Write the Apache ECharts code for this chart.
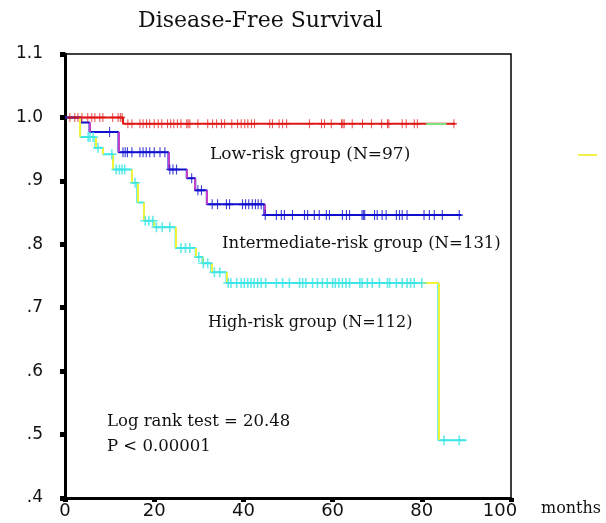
<!DOCTYPE html>
<html>
<head>
<meta charset="utf-8">
<script src="https://cdn.jsdelivr.net/npm/echarts@6/dist/echarts.min.js"></script>
<style>
  html, body { margin: 0; padding: 0; background: #fff; }
  #container { width: 606px; height: 523px; }
</style>
</head>
<body>
<div id="container"></div>
<script>
// axis ticks
var xTicks = [0, 20, 40, 60, 80, 100];
var yTicks = [0.4, 0.5, 0.6, 0.7, 0.8, 0.9, 1.0, 1.1];

// low-risk group (N=97): event times / survival after each step
var lowT = [0, 13, 87.5];
var lowS = [1.0, 0.99, 0.99];
var lowCens = [1.1, 2.2, 2.9, 3.8, 5.1, 6, 6.7, 7.8, 8.5, 10.7, 11.9, 12.4, 12.8, 14.1, 15, 16.8, 17.5, 18.3, 19,
  20, 20.9, 21.7, 23, 23.7, 24.4, 25.2, 26, 27.3, 27.6, 28, 29.8, 32, 33.1, 34, 35.1, 35.8, 37.4, 38.7, 39.5, 40.3,
  41, 41.8, 42.5, 45.9, 46.5, 48, 48.8, 49.7, 54.8, 57.5, 58.2, 59.7, 62, 62.3, 62.6, 64.4, 66.7, 68.7, 71, 72.3,
  72.6, 75.6, 76.5, 78.3, 79, 87.2];
var lowGreen = [81, 85.5];

// intermediate-risk group (N=131)
var midT = [0, 3.5, 5.5, 12, 23.2, 27.3, 29.2, 31.8, 44.7, 88.8];
var midS = [1.0, 0.992, 0.977, 0.945, 0.918, 0.904, 0.885, 0.863, 0.846, 0.846];
var midCens = [10, 13, 13.5, 14, 15, 16.8, 17.5, 18.2, 19, 20, 21.3, 22.4, 23.5, 24.2, 25, 28.4, 29.8, 30.6, 33,
  34.2, 36.2, 36.9, 39.8, 40.5, 41.2, 42, 42.7, 43.3, 44, 44.9, 47.4, 48.5, 49.2, 51, 53.7, 54.4, 55.9, 57, 58.6,
  59.3, 62.2, 63.1, 63.8, 66.6, 66.9, 67.2, 69.4, 70, 71.1, 72, 74.3, 75, 75.6, 76.7, 80.5, 81.7, 82.8, 84.6, 88.4];

// high-risk group (N=112)
var highT = [0, 3.4, 6.8, 8.5, 10.8, 15, 16.2, 17.7, 20, 24.8, 29.3, 30.8, 32.8, 36.2, 83.7, 90];
var highS = [1.0, 0.969, 0.952, 0.942, 0.918, 0.897, 0.866, 0.837, 0.827, 0.794, 0.780, 0.770, 0.756, 0.739, 0.491, 0.491];
var highCens = [5.2, 5.6, 6.3, 7.4, 10.5, 11.5, 12.2, 12.8, 13.4, 15.7, 18, 18.8, 19.7, 20.5, 21.8, 23.5, 26, 27, 28,
  30, 31, 32, 33.5, 34.7, 36.6, 37.2, 38.5, 39.5, 40.2, 41, 41.7, 42.4, 43.2, 44, 45, 47.4, 48.8, 50.3, 52.6, 53.3,
  54, 55.5, 56.6, 57.7, 58.8, 60, 60.6, 61.4, 62.2, 63, 63.8, 66.1, 66.6, 67.8, 68.9, 70.5, 72.3, 72.8, 74.3, 75.6,
  76.7, 77.5, 78.3, 80, 85, 88.4];
var highYellowTail = [80, 83.7];

var PLUS = 'path://M0,4.2H4.2V0H5.8V4.2H10V5.8H5.8V10H4.2V5.8H0Z';

function survAt(T, S, t) {
  var v = S[0];
  for (var i = 0; i < T.length; i++) {
    if (T[i] <= t) v = S[i];
  }
  return v;
}
function stepData(T, S) {
  return T.map(function (t, i) { return [t, S[i]]; });
}
function dropLines(T, S, from) {
  var res = [];
  for (var i = from; i < T.length; i++) {
    if (S[i] !== S[i - 1]) res.push({ coords: [[T[i], S[i - 1]], [T[i], S[i]]] });
  }
  return res;
}
function censData(T, S, C) {
  return C.map(function (t) { return [t, survAt(T, S, t)]; });
}
function flatLine(T, S, seg) {
  var v = survAt(T, S, seg[0]);
  return [{ coords: [[seg[0], v], [seg[1], v]] }];
}

var serif = '"DejaVu Serif", "Liberation Serif", serif';

var dom = document.getElementById("container");
var myChart = echarts.init(dom);
var option = {
  backgroundColor: '#fff',
  animation: false,
  grid: { left: 65, right: 95, top: 54, bottom: 25, show: true, borderColor: '#000', borderWidth: 1.5 },
  xAxis: {
    type: 'value', min: 0, max: 100, interval: 20,
    axisLine: { lineStyle: { color: '#000', width: 3 } },
    axisTick: { show: true, length: 4, lineStyle: { color: '#000', width: 5 } },
    splitLine: { show: false },
    axisLabel: {
      color: '#111', fontFamily: 'DejaVu Sans', fontSize: 18, margin: 4,
      formatter: function (v) { return v === 100 ? '{r|100}' : String(v); },
      rich: { r: { fontFamily: 'DejaVu Sans', fontSize: 18, color: '#111', padding: [0, 22, 0, 0] } }
    }
  },
  yAxis: {
    type: 'value', min: 0.4, max: 1.1, interval: 0.1,
    axisLine: { lineStyle: { color: '#000', width: 3 } },
    axisTick: { show: true, length: 5, lineStyle: { color: '#000', width: 5 } },
    splitLine: { show: false },
    axisLabel: {
      color: '#111', fontFamily: 'DejaVu Sans', fontSize: 17, margin: 22,
      formatter: function (v) {
        var s = (Math.round(v * 10) / 10).toFixed(1);
        return v >= 0.99 ? s : s.slice(1);
      }
    }
  },
  graphic: [
    { type: 'text', left: 138, top: 10, style: { text: 'Disease-Free Survival', font: '22px ' + serif, fill: '#111' } },
    { type: 'text', left: 210, top: 146, style: { text: 'Low-risk group (N=97)', font: '17px ' + serif, fill: '#111' } },
    { type: 'text', left: 222, top: 235, style: { text: 'Intermediate-risk group (N=131)', font: '16.5px ' + serif, fill: '#111' } },
    { type: 'text', left: 208, top: 315, style: { text: 'High-risk group (N=112)', font: '16px ' + serif, fill: '#111' } },
    { type: 'text', left: 107, top: 413, style: { text: 'Log rank test = 20.48', font: '16.5px ' + serif, fill: '#111' } },
    { type: 'text', left: 107, top: 438, style: { text: 'P < 0.00001', font: '16.5px ' + serif, fill: '#111' } },
    { type: 'text', left: 541, top: 501, style: { text: 'months', font: '16px ' + serif, fill: '#111' } },
    { type: 'line', shape: { x1: 578, y1: 155, x2: 597, y2: 155 }, style: { stroke: '#f2f24a', lineWidth: 2 } }
  ],
  series: [
    { name: 'low', type: 'line', step: 'end', showSymbol: false, data: stepData(lowT, lowS),
      lineStyle: { color: '#e01515', width: 2 }, z: 3 },
    { name: 'lowGreen', type: 'lines', coordinateSystem: 'cartesian2d', data: flatLine(lowT, lowS, lowGreen),
      lineStyle: { color: '#7ee07e', width: 2, opacity: 1 }, z: 4 },
    { name: 'lowCens', type: 'scatter', data: censData(lowT, lowS, lowCens), symbol: PLUS, symbolSize: [6, 9],
      itemStyle: { color: '#e01515' }, z: 6 },

    { name: 'mid', type: 'line', step: 'end', showSymbol: false, data: stepData(midT, midS),
      lineStyle: { color: '#1010d0', width: 2 }, z: 3 },
    { name: 'midDrops', type: 'lines', coordinateSystem: 'cartesian2d', data: dropLines(midT, midS, 2),
      lineStyle: { color: '#c040c8', width: 2, opacity: 1 }, z: 4 },
    { name: 'midCens', type: 'scatter', data: censData(midT, midS, midCens), symbol: PLUS, symbolSize: [7, 10],
      itemStyle: { color: '#1010d0' }, z: 6 },

    { name: 'high', type: 'line', step: 'end', showSymbol: false, data: stepData(highT, highS),
      lineStyle: { color: '#3ee6e6', width: 2 }, z: 2 },
    { name: 'highDrops', type: 'lines', coordinateSystem: 'cartesian2d',
      data: dropLines(highT, highS, 1).concat(flatLine(highT, highS, highYellowTail)),
      lineStyle: { color: '#f2f23a', width: 2, opacity: 1 }, z: 4 },
    { name: 'highCens', type: 'scatter', data: censData(highT, highS, highCens), symbol: PLUS, symbolSize: [10, 10],
      itemStyle: { color: '#3ee6e6' }, z: 5 }
  ]
};
if (option && typeof option === "object") {
  myChart.setOption(option, true);
}
</script>
</body>
</html>
